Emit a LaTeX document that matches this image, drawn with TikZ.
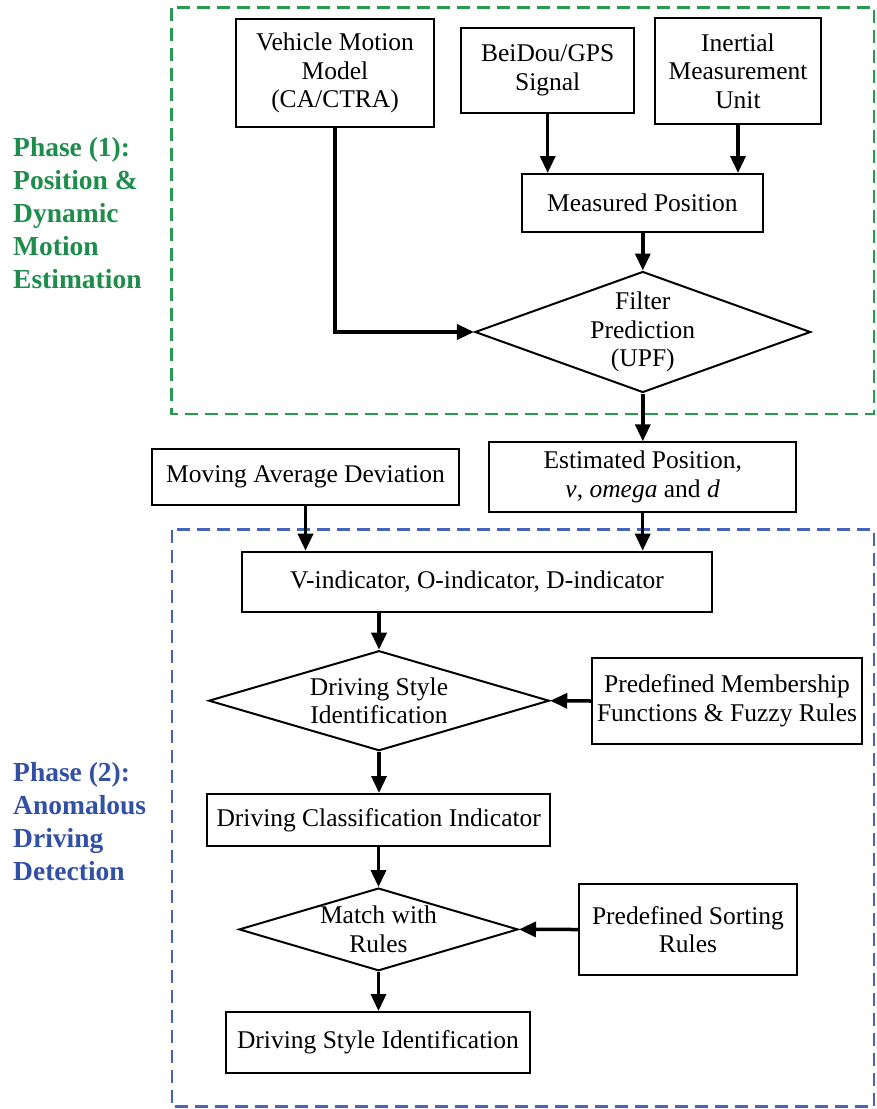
\documentclass[tikz,border=0pt]{standalone}
\usepackage{fontspec}
\setmainfont{Liberation Serif}
\usetikzlibrary{arrows.meta,shapes.geometric}
\definecolor{pgreen}{RGB}{30,140,75}
\definecolor{pblue}{RGB}{50,80,165}
\definecolor{dgreen}{RGB}{40,155,80}
\definecolor{dblue}{RGB}{70,100,185}
\begin{document}
\begin{tikzpicture}[x=1pt,y=-1pt,
 box/.style={draw,line width=2pt,inner sep=0pt,align=center,font=\fontsize{25.5}{28.5}\selectfont},
 dia/.style={draw,shape=diamond,line width=2pt,inner sep=0pt},
 lbl/.style={inner sep=0pt,align=center,font=\fontsize{25.5}{28.5}\selectfont},
 flow/.style={line width=3.5pt,-{Triangle[length=17pt,width=15pt]}},
 phase/.style={inner sep=0pt,align=left,anchor=west,font=\bfseries\fontsize{27.5}{33}\selectfont},
 frame/.style={dash pattern=on 13pt off 7pt,line width=2.2pt}]
\useasboundingbox (0,0) rectangle (876,1109);
% frames
\draw[frame,dgreen] (171.5,7.5) rectangle (874,414);
\draw[frame,dblue] (172,529.5) rectangle (874,1106.5);
% phase labels
\node[phase,text=pgreen] (ph1) at (13,213) {Phase (1):\\Position \&\\Dynamic\\Motion\\Estimation};
\node[phase,text=pblue] (ph2) at (13,822) {Phase (2):\\Anomalous\\Driving\\Detection};
% phase 1 nodes
\node[box,minimum width=198pt,minimum height=108pt] (vm) at (335,73.3) {Vehicle Motion\\Model\\(CA/CTRA)};
\node[box,minimum width=172.6pt,minimum height=84.4pt] (bd) at (547.7,70.5) {BeiDou/GPS\\Signal};
\node[box,minimum width=165.6pt,minimum height=105.7pt] (imu) at (738,71) {Inertial\\Measurement\\Unit};
\node[box,minimum width=240.7pt,minimum height=58pt] (mp) at (642.4,203) {Measured Position};
\node[dia,minimum width=335.7pt,minimum height=121pt] (fp) at (642.8,332) {};
\node[lbl] (fpt) at (fp.center) {Filter\\Prediction\\(UPF)};
% middle
\node[box,minimum width=306.6pt,minimum height=69.4pt] (ep) at (642.7,477) {Estimated Position,\\\textit{v}, \textit{omega} and \textit{d}};
\node[box,minimum width=307pt,minimum height=55.7pt] (mad) at (305.5,477.2) {Moving Average Deviation};
% phase 2 nodes
\node[box,minimum width=470pt,minimum height=60pt] (vi) at (477,581.7) {V-indicator, O-indicator, D-indicator};
\node[dia,minimum width=340.5pt,minimum height=100pt] (dsi) at (379,700.7) {};
\node[lbl] (dsit) at (dsi.center) {Driving Style\\Identification};
\node[box,minimum width=270pt,minimum height=86pt] (pm) at (727,701) {Predefined Membership\\Functions \& Fuzzy Rules};
\node[box,minimum width=343.5pt,minimum height=52pt] (dci) at (378.7,820) {Driving Classification Indicator};
\node[dia,minimum width=279pt,minimum height=82.7pt] (mr) at (378.5,929.4) {};
\node[lbl] (mrt) at (mr.center) {Match with\\Rules};
\node[box,minimum width=218pt,minimum height=91pt] (psr) at (688,929.5) {Predefined Sorting\\Rules};
\node[box,minimum width=303.6pt,minimum height=61pt] (dsi2) at (378,1042.5) {Driving Style Identification};
% connectors
\draw[flow] (bd.south) -- (bd.south |- mp.north);
\draw[flow] (imu.south) -- (imu.south |- mp.north);
\draw[flow] (mp.south -| fp.north) -- (fp.north);
\draw[flow] (vm.south) |- (fp.west);
\draw[flow] (fp.south) -- (fp.south |- ep.north);
\draw[flow] (mad.south) -- (mad.south |- vi.north);
\draw[flow] (ep.south) -- (ep.south |- vi.north);
\draw[flow] (dsi.north |- vi.south) -- (dsi.north);
\draw[flow] (pm.west) -- (dsi.east);
\draw[flow] (dsi.south) -- (dsi.south |- dci.north);
\draw[flow] (mr.north |- dci.south) -- (mr.north);
\draw[flow] (psr.west) -- (mr.east);
\draw[flow] (mr.south) -- (mr.south |- dsi2.north);
\end{tikzpicture}
\end{document}
